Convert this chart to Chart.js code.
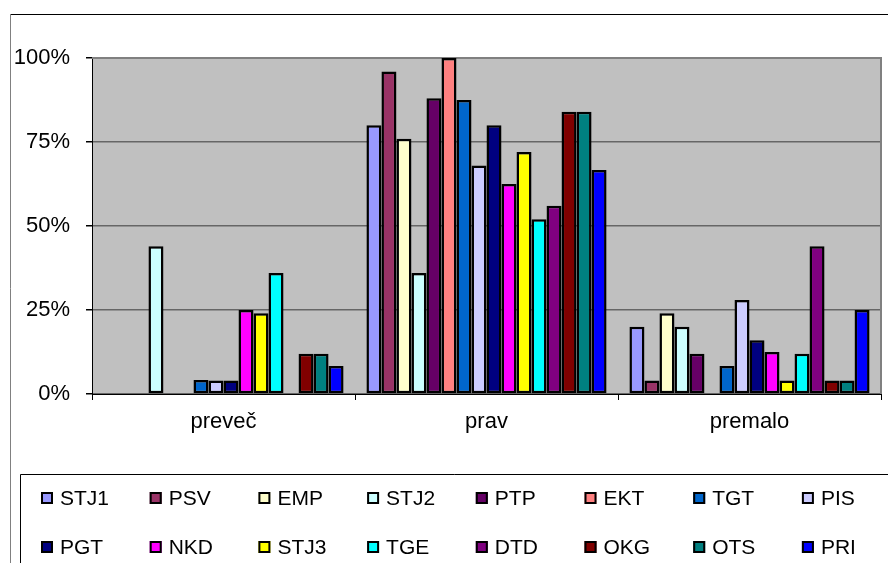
<!DOCTYPE html>
<html><head><meta charset="utf-8">
<script src="https://cdn.jsdelivr.net/npm/chart.js@4/dist/chart.umd.min.js"></script>
<style>html,body{margin:0;padding:0;background:#fff;}#wrap{position:relative;width:888px;height:563px;}</style>
</head><body><div id="wrap"><canvas id="c" width="888" height="563"></canvas></div>
<script>
const categories = ['preveč', 'prav', 'premalo'];
const yTicks = [0, 25, 50, 75, 100];
const seriesNames = ['STJ1','PSV','EMP','STJ2','PTP','EKT','TGT','PIS','PGT','NKD','STJ3','TGE','DTD','OKG','OTS','PRI'];
const seriesColors = ['#9999FF','#993366','#FFFFCC','#CCFFFF','#660066','#FF8080','#0066CC','#CCCCFF','#000080','#FF00FF','#FFFF00','#00FFFF','#800080','#800000','#008080','#0000FF'];
const STJ1 = [0, 80, 20];
const PSV  = [0, 96, 4];
const EMP  = [0, 76, 24];
const STJ2 = [44, 36, 20];
const PTP  = [0, 88, 12];
const EKT  = [0, 100, 0];
const TGT  = [4.2, 87.5, 8.3];
const PIS  = [4, 68, 28];
const PGT  = [4, 80, 16];
const NKD  = [25, 62.5, 12.5];
const STJ3 = [24, 72, 4];
const TGE  = [36, 52, 12];
const DTD  = [0, 56, 44];
const OKG  = [12, 84, 4];
const OTS  = [12, 84, 4];
const PRI  = [8.3, 66.7, 25];
const seriesValues = [STJ1, PSV, EMP, STJ2, PTP, EKT, TGT, PIS, PGT, NKD, STJ3, TGE, DTD, OKG, OTS, PRI];

const FONT = "'Liberation Sans', Arial, sans-serif";

const datasets = seriesNames.map((n, i) => ({
  label: n,
  data: seriesValues[i],
  backgroundColor: seriesColors[i],
  borderColor: '#000',
  borderWidth: 2.5,
  borderSkipped: false,
  categoryPercentage: 0.913,
  barPercentage: 1.0
}));

const framePlugin = {
  id: 'frame',
  beforeDraw(chart) {
    const c = chart.ctx, a = chart.chartArea;
    c.save();
    c.fillStyle = '#fff';
    c.fillRect(0, 0, chart.width, chart.height);
    // outer chart border
    c.strokeStyle = '#000';
    c.lineWidth = 1;
    c.beginPath(); c.moveTo(10, 14.5); c.lineTo(chart.width, 14.5); c.stroke();
    c.strokeStyle = '#808080';
    c.beginPath(); c.moveTo(10.5, 14); c.lineTo(10.5, chart.height); c.stroke();
    // plot background
    c.fillStyle = '#C0C0C0';
    c.fillRect(a.left, a.top, a.right - a.left, a.bottom - a.top);
    c.restore();
  },
  beforeDatasetsDraw(chart) {
    const c = chart.ctx, a = chart.chartArea;
    c.save();
    c.strokeStyle = '#808080';
    c.lineWidth = 2;
    c.beginPath();
    c.moveTo(a.left, a.top);
    c.lineTo(a.right, a.top);
    c.lineTo(a.right, a.bottom);
    c.stroke();
    c.restore();
  },
  afterDraw(chart) {
    const c = chart.ctx;
    c.save();
    // legend box
    c.strokeStyle = '#000';
    c.lineWidth = 1;
    c.beginPath();
    c.moveTo(20.5, chart.height);
    c.lineTo(20.5, 474.5);
    c.lineTo(chart.width, 474.5);
    c.stroke();
    c.font = '21px ' + FONT;
    c.textBaseline = 'middle';
    c.textAlign = 'left';
    chart.data.datasets.forEach((ds, i) => {
      const col = i % 8, row = Math.floor(i / 8);
      const x = 41 + col * 108.7;
      const yc = 498 + row * 49;
      c.fillStyle = ds.backgroundColor;
      c.fillRect(x, yc - 6, 12, 12);
      c.strokeStyle = '#000';
      c.lineWidth = 2;
      c.strokeRect(x + 1, yc - 5, 10, 10);
      c.fillStyle = '#000';
      c.fillText(ds.label, x + 19, yc + 1);
    });
    c.restore();
  }
};

new Chart(document.getElementById('c'), {
  type: 'bar',
  data: { labels: categories, datasets },
  options: {
    responsive: false,
    animation: false,
    devicePixelRatio: 1,
    layout: { padding: { left: 0, top: 58, right: 7, bottom: 129 } },
    plugins: { legend: { display: false }, tooltip: { enabled: false } },
    scales: {
      x: {
        grid: { display: true, drawOnChartArea: false, drawTicks: true, tickLength: 6, tickColor: '#000', offset: true },
        border: { color: '#000', width: 1 },
        ticks: { color: '#000', font: { family: FONT, size: 22 }, padding: 9, maxRotation: 0 },
        afterFit(s) { s.height = 40; }
      },
      y: {
        min: 0, max: 100,
        afterBuildTicks(s) { s.ticks = yTicks.map(v => ({ value: v })); },
        ticks: { color: '#000', font: { family: FONT, size: 22 }, padding: 16, callback: v => v + '%' },
        grid: { color: '#666666', lineWidth: 1.5, tickColor: '#000', tickLength: 6 },
        border: { color: '#000', width: 1 },
        afterFit(s) { s.width = 92; }
      }
    }
  },
  plugins: [framePlugin]
});
</script>
</body></html>
